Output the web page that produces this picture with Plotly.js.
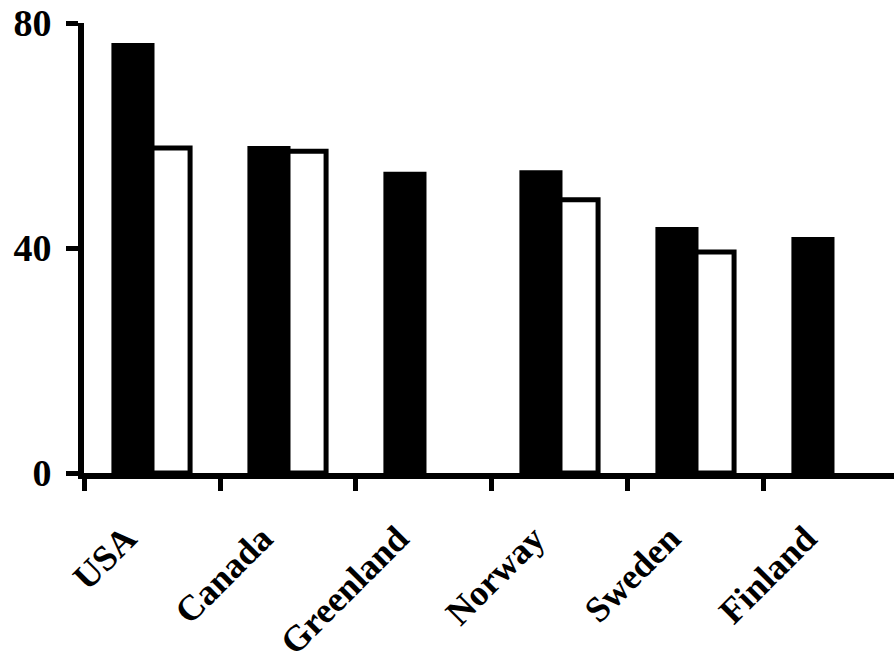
<!DOCTYPE html>
<html>
<head>
<meta charset="utf-8">
<script src="https://cdn.plot.ly/plotly-3.0.1.min.js"></script>
<style>html,body{margin:0;padding:0;background:#fff;}#chart{width:894px;height:664px;}</style>
</head>
<body>
<div id="chart"></div>
<script>
const categories = ["USA", "Canada", "Greenland", "Norway", "Sweden", "Finland"];
const seriesBlack = [76.0, 57.7, 53.1, 53.4, 43.3, 41.5];
const seriesWhite = [57.8, 57.2, null, 48.6, 39.3, null];
const yTickVals = [0, 40, 80];
const yTickText = ["0", "40", "80"];

const FAM = "Liberation Serif";

const traces = [
  {type: "bar", x: categories, y: seriesBlack, name: "A",
   marker: {color: "#000", line: {color: "#000", width: 5}}},
  {type: "bar", x: categories, y: seriesWhite, name: "B",
   marker: {color: "#fff", line: {color: "#000", width: 5}}}
];

const layout = {
  width: 894, height: 664,
  margin: {l: 84, r: 0, t: 23, b: 191, pad: 0},
  paper_bgcolor: "#fff", plot_bgcolor: "#fff",
  showlegend: false,
  barmode: "group",
  bargap: 0.44,
  bargroupgap: 0,
  font: {family: FAM, size: 36, color: "#000", weight: "bold"},
  xaxis: {
    type: "category",
    range: [-0.5, 5.456],
    showline: true, linewidth: 6, linecolor: "#000",
    ticks: "outside", ticklen: 12, tickwidth: 5, tickcolor: "#000",
    tickson: "boundaries",
    tickangle: -45,
    tickfont: {family: FAM, size: 36, color: "#000", weight: "bold"},
    ticklabelstandoff: 24,
    ticklabelshift: -26,
    showgrid: false, zeroline: false
  },
  yaxis: {
    range: [0, 80],
    tickvals: yTickVals, ticktext: yTickText,
    showline: true, linewidth: 6, linecolor: "#000",
    ticks: "outside", ticklen: 12, tickwidth: 5, tickcolor: "#000",
    tickfont: {family: FAM, size: 38, color: "#000", weight: "bold"},
    ticklabelstandoff: 7,
    showgrid: false, zeroline: false
  }
};

Plotly.newPlot("chart", traces, layout, {displayModeBar: false, staticPlot: true});
</script>
</body>
</html>
